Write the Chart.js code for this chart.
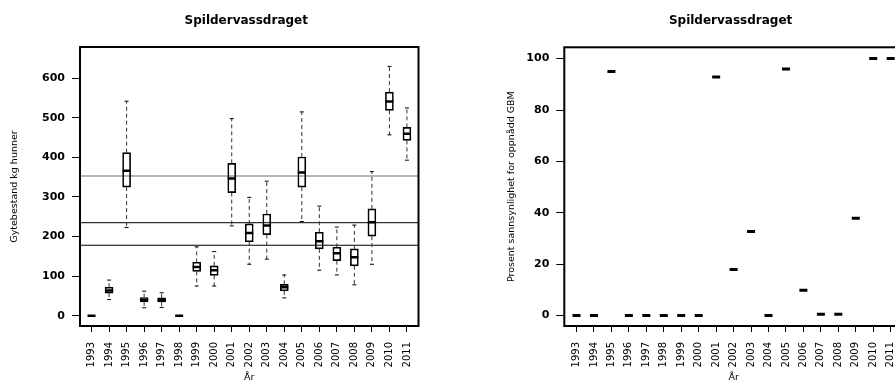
<!DOCTYPE html>
<html>
<head>
<meta charset="utf-8">
<script src="https://cdn.jsdelivr.net/npm/chart.js@4.4.1/dist/chart.umd.min.js"></script>
<style>
html, body { margin: 0; padding: 0; background: #fff; overflow: hidden; }
#ramme { position: relative; width: 895px; height: 381px; overflow: hidden; }
#venstre { position: absolute; left: 0; top: 0; width: 447px; height: 381px; }
#hoyre { position: absolute; left: 447px; top: 0; width: 470px; height: 381px; }
</style>
</head>
<body>
<div id="ramme">
  <div id="venstre"><canvas id="gytebestand"></canvas></div>
  <div id="hoyre"><canvas id="sannsynlighet"></canvas></div>
</div>
<script>
// data lest av figuren
var aar = [1993,1994,1995,1996,1997,1998,1999,2000,2001,2002,2003,2004,2005,2006,2007,2008,2009,2010,2011];

// gytebestand (kg hunner), boksplott per år
var minimum  = [0, 41, 223, 20, 21, 0,  75,  75, 227, 130, 143, 45, 238, 115, 103,  78, 130, 457, 393];
var nedre    = [0, 57, 325, 35, 35, 0, 112, 102, 311, 187, 205, 63, 325, 169, 139, 126, 201, 519, 443];
var median   = [0, 64, 366, 40, 40, 0, 123, 115, 347, 209, 228, 72, 362, 188, 158, 148, 236, 541, 460];
var ovre     = [0, 72, 412, 46, 45, 0, 135, 126, 385, 232, 257, 79, 401, 211, 173, 169, 270, 565, 476];
var maksimum = [0, 90, 542, 62, 58, 0, 174, 162, 498, 299, 340, 103, 515, 277, 224, 229, 364, 630, 525];

// referanselinjer
var grenser = [353, 235, 178];
var grenseFarger = ["#6e6e6e", "#333333", "#000000"];

// prosent sannsynlighet for oppnådd GBM
var prosent = [0, 0, 95, 0, 0, 0, 0, 0, 92.8, 17.9, 32.7, 0, 96, 9.9, 0.5, 0.5, 37.9, 100, 100];

var yTikkerVenstre = [0, 100, 200, 300, 400, 500, 600];
var yTikkerHoyre = [0, 20, 40, 60, 80, 100];

var skrift = "DejaVu Sans";

function lagTittel(tekst) {
  return {
    id: "tittel",
    afterDraw: function(chart) {
      var ctx = chart.ctx, a = chart.chartArea;
      ctx.save();
      ctx.font = "bold 12px '" + skrift + "'";
      ctx.fillStyle = "#000";
      ctx.textAlign = "center";
      ctx.textBaseline = "alphabetic";
      ctx.fillText(tekst, (a.left + a.right) / 2 - 3, 23.5);
      ctx.restore();
    }
  };
}

var boks = {
  id: "boks",
  afterDraw: function(chart) {
    var ctx = chart.ctx, a = chart.chartArea;
    ctx.save();
    ctx.strokeStyle = "#000";
    ctx.lineWidth = 2;
    ctx.strokeRect(a.left, a.top, a.right - a.left, a.bottom - a.top);
    ctx.restore();
  }
};

var linjer = {
  id: "linjer",
  beforeDatasetsDraw: function(chart) {
    var ctx = chart.ctx, a = chart.chartArea, ys = chart.scales.y;
    ctx.save();
    for (var i = 0; i < grenser.length; i++) {
      var y = ys.getPixelForValue(grenser[i]);
      ctx.strokeStyle = grenseFarger[i];
      ctx.lineWidth = 1.2;
      ctx.beginPath();
      ctx.moveTo(a.left, y);
      ctx.lineTo(a.right, y);
      ctx.stroke();
    }
    ctx.restore();
  }
};

// værhår med stiplet linje og kort tverrstrek
var whiskers = {
  id: "whiskers",
  beforeDatasetsDraw: function(chart) {
    var ctx = chart.ctx, xs = chart.scales.x, ys = chart.scales.y;
    ctx.save();
    for (var i = 0; i < aar.length; i++) {
      var x = xs.getPixelForValue(aar[i]);
      var yMin = ys.getPixelForValue(minimum[i]);
      var yQ1 = ys.getPixelForValue(nedre[i]);
      var yQ3 = ys.getPixelForValue(ovre[i]);
      var yMax = ys.getPixelForValue(maksimum[i]);
      ctx.strokeStyle = "#333";
      ctx.lineWidth = 1;
      ctx.setLineDash([4, 3]);
      ctx.beginPath();
      ctx.moveTo(x, yQ3); ctx.lineTo(x, yMax);
      ctx.moveTo(x, yQ1); ctx.lineTo(x, yMin);
      ctx.stroke();
      ctx.setLineDash([]);
      ctx.strokeStyle = "#000";
      ctx.beginPath();
      ctx.moveTo(x - 2, yMax); ctx.lineTo(x + 2, yMax);
      ctx.moveTo(x - 2, yMin); ctx.lineTo(x + 2, yMin);
      ctx.stroke();
    }
    ctx.restore();
  }
};

function faste(verdier) {
  return function(s) {
    s.ticks = verdier.map(function(v) { return { value: v }; });
  };
}

function xAkse(min, max) {
  return {
    type: "linear",
    min: min,
    max: max,
    offset: false,
    afterBuildTicks: faste(aar),
    ticks: {
      autoSkip: false,
      minRotation: 90,
      maxRotation: 90,
      padding: 10,
      color: "#000",
      font: { family: skrift, size: 10 },
      callback: function(v) { return String(v); }
    },
    grid: { drawOnChartArea: false, offset: false, tickLength: 6, color: "#000", lineWidth: 1 },
    border: { display: false },
    title: {
      display: true,
      text: "År",
      color: "#000",
      font: { family: skrift, size: 9.5, lineHeight: 1 },
      padding: { top: 0, bottom: -1 }
    },
    afterFit: function(s) { s.height = 55; }
  };
}

function yAkse(min, max, tikker, tekst, bredde, tittelAvstand) {
  return {
    type: "linear",
    min: min,
    max: max,
    afterBuildTicks: faste(tikker),
    ticks: {
      padding: 7,
      color: "#000",
      font: { family: skrift, size: 11, weight: "bold" },
      callback: function(v) { return String(v); }
    },
    grid: { drawOnChartArea: false, tickLength: 8, color: "#000", lineWidth: 1 },
    border: { display: false },
    title: {
      display: true,
      text: tekst,
      color: "#000",
      font: { family: skrift, size: 9.5 },
      padding: { top: tittelAvstand, bottom: 0 }
    },
    afterFit: function(s) { s.width = bredde; }
  };
}

new Chart(document.getElementById("gytebestand"), {
  type: "bar",
  data: {
    datasets: [{
      type: "bar",
      data: aar.map(function(a, i) { return { x: a, y: [nedre[i], ovre[i]] }; }),
      backgroundColor: "rgba(255,255,255,0)",
      borderColor: "#000",
      borderWidth: 1,
      borderSkipped: false,
      barThickness: 8
    }, {
      type: "scatter",
      data: aar.map(function(a, i) { return { x: a, y: median[i] }; }),
      pointStyle: "line",
      pointRadius: 4,
      pointBorderWidth: 2.5,
      borderColor: "#000",
      backgroundColor: "#000"
    }]
  },
  options: {
    responsive: true,
    maintainAspectRatio: false,
    animation: false,
    layout: { padding: { top: 47, right: 28.5, left: 0, bottom: 0 } },
    plugins: { legend: { display: false }, tooltip: { enabled: false } },
    scales: {
      x: xAkse(1992.34, 2011.66),
      y: yAkse(-26, 679, yTikkerVenstre, "Gytebestand kg hunner", 80, 9)
    }
  },
  plugins: [linjer, whiskers, boks, lagTittel("Spildervassdraget")]
});

new Chart(document.getElementById("sannsynlighet"), {
  type: "scatter",
  data: {
    datasets: [{
      data: aar.map(function(a, i) { return { x: a, y: prosent[i] }; }),
      pointStyle: "line",
      pointRadius: 4,
      pointBorderWidth: 3,
      borderColor: "#000",
      backgroundColor: "#000"
    }]
  },
  options: {
    responsive: true,
    maintainAspectRatio: false,
    animation: false,
    layout: { padding: { top: 47.3, right: 14.1, left: 0, bottom: 0 } },
    plugins: { legend: { display: false }, tooltip: { enabled: false } },
    scales: {
      x: xAkse(1992.30, 2011.70),
      y: yAkse(-4.05, 104.4, yTikkerHoyre, "Prosent sannsynlighet for oppnådd GBM", 117.3, 59.2)
    }
  },
  plugins: [boks, lagTittel("Spildervassdraget")]
});
</script>
</body>
</html>
